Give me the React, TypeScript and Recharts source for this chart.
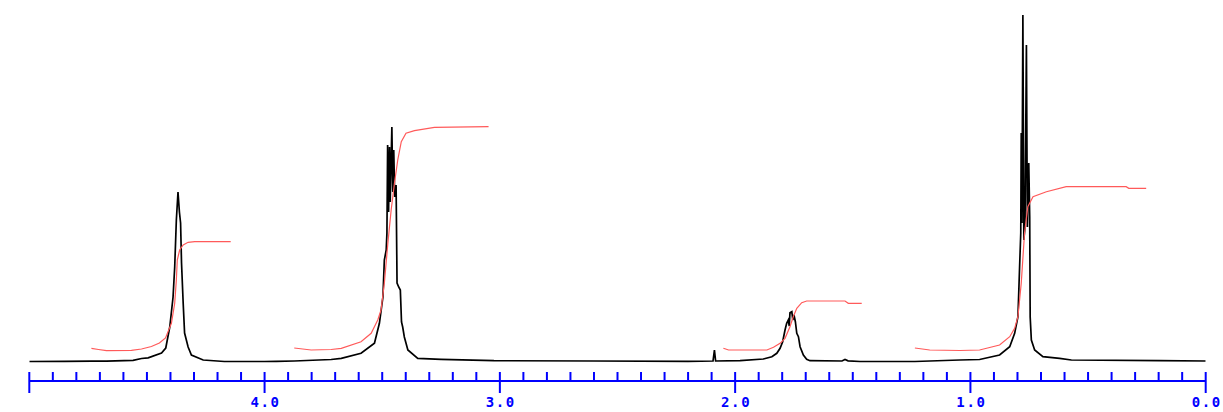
import React from 'react';
import { ComposedChart, Line, XAxis, YAxis } from 'recharts';

// ppm, intensity (arbitrary units)
const baseLeft: [number, number][] = [
  [5.0, 0.5], [4.85, 0.6], [4.736, 0.8], [4.672, 0.8], [4.559, 1.7], [4.523, 3.5], [4.495, 4.2],
  [4.438, 9], [4.42, 14],
];
const peakA: [number, number][] = [
  [4.403, 35], [4.389, 65], [4.382, 95], [4.375, 142], [4.368, 170], [4.362, 150],
  [4.357, 139], [4.353, 99], [4.346, 59], [4.34, 29], [4.325, 15], [4.311, 7],
  [4.261, 2], [4.171, 0.5], [4.0, 0.5], [3.95, 0.6],
];
const peakB: [number, number][] = [
  [3.874, 1], [3.717, 2.5], [3.674, 3.7], [3.59, 8.7], [3.533, 18.7], [3.512, 38.7],
  [3.497, 65], [3.491, 102], [3.483, 112], [3.48, 129], [3.477, 217], [3.473, 150],
  [3.469, 215], [3.466, 160], [3.459, 235], [3.455, 170], [3.451, 212], [3.447, 165],
  [3.441, 177], [3.437, 79], [3.43, 75], [3.423, 72], [3.418, 40], [3.413, 35],
  [3.406, 25], [3.391, 12], [3.349, 3.7], [3.25, 2.7], [3.025, 1.3], [2.6, 1], [2.2, 0.6],
];
const peakC: [number, number][] = [
  [2.094, 1], [2.088, 12], [2.083, 1], [1.979, 1.3], [1.88, 3], [1.844, 5.3],
  [1.823, 8.7], [1.809, 13.7], [1.798, 20.3], [1.788, 32], [1.781, 38.7], [1.774, 42],
  [1.77, 36], [1.767, 49.3], [1.759, 50.3], [1.755, 42], [1.75, 47], [1.744, 40.3],
  [1.738, 28.7], [1.731, 25.3], [1.724, 15.3], [1.71, 7], [1.696, 2.7], [1.682, 1.3],
  [1.546, 1], [1.533, 2.5], [1.52, 1.2], [1.469, 0.5],
];
const peakD: [number, number][] = [
  [1.236, 0.5], [1.045, 2], [0.961, 2.5], [0.876, 7], [0.833, 15.3], [0.812, 28.7],
  [0.798, 45.3], [0.791, 95], [0.786, 129], [0.784, 229], [0.781, 139], [0.777, 347],
  [0.773, 122], [0.768, 135], [0.762, 317], [0.758, 135], [0.752, 199], [0.748, 145],
  [0.746, 45], [0.741, 22], [0.727, 12], [0.692, 5.3], [0.621, 3.7], [0.571, 2],
  [0.197, 1.3], [0.0, 1],
];

const integral1: [number, number][] = [
  [4.736, 13.7], [4.706, 12.5], [4.672, 11.3], [4.566, 11.7], [4.523, 13], [4.481, 15.5],
  [4.447, 19], [4.421, 24], [4.396, 38.7], [4.382, 58.7], [4.375, 82], [4.371, 102],
  [4.361, 112], [4.346, 117], [4.325, 119.7], [4.297, 120.3], [4.144, 120.3],
];
const integral2: [number, number][] = [
  [3.874, 14], [3.802, 12], [3.717, 12.5], [3.674, 13.7], [3.59, 20.3], [3.547, 28.7],
  [3.519, 42], [3.505, 52], [3.491, 78.7], [3.476, 118.7], [3.462, 152], [3.448, 178.7],
  [3.434, 202], [3.419, 220.3], [3.399, 228.7], [3.363, 231.3], [3.278, 234.7], [3.048, 235.3],
];
const integral3: [number, number][] = [
  [2.05, 13.7], [2.028, 12], [1.865, 12], [1.837, 14.7], [1.809, 18.7], [1.788, 23.7],
  [1.767, 35.3], [1.753, 45.3], [1.738, 53.7], [1.717, 59.3], [1.696, 61], [1.533, 61],
  [1.519, 58.7], [1.462, 58.7],
];
const integral4: [number, number][] = [
  [1.236, 14], [1.173, 12], [1.045, 11.5], [0.961, 12], [0.876, 17], [0.833, 25.3],
  [0.812, 33.7], [0.798, 45.3], [0.784, 78.7], [0.77, 128.7], [0.756, 155.3], [0.734, 165.3],
  [0.677, 170.3], [0.593, 175.3], [0.338, 175.3], [0.327, 173.7], [0.253, 173.7],
];

const TICKS = [
  5.0, 4.9, 4.8, 4.7, 4.6, 4.5, 4.4, 4.3, 4.2, 4.1, 4.0, 3.9, 3.8, 3.7, 3.6, 3.5, 3.4, 3.3,
  3.2, 3.1, 3.0, 2.9, 2.8, 2.7, 2.6, 2.5, 2.4, 2.3, 2.2, 2.1, 2.0, 1.9, 1.8, 1.7, 1.6, 1.5,
  1.4, 1.3, 1.2, 1.1, 1.0, 0.9, 0.8, 0.7, 0.6, 0.5, 0.4, 0.3, 0.2, 0.1, 0.0,
];
const MAJOR = [5.0, 4.0, 3.0, 2.0, 1.0, 0.0];
const LABELED: Record<string, string> = { '4': '4.0', '3': '3.0', '2': '2.0', '1': '1.0', '0': '0.0' };

const toRows = (arr: [number, number][]) => arr.map(([ppm, v]) => ({ ppm, v }));
const spectrum = toRows([...baseLeft, ...peakA, ...peakB, ...peakC, ...peakD]);

const BLUE = '#0000ff';
const RED = '#ff5a5a';

const AxisTick = (props: any) => {
  const { x, y, payload } = props;
  const val = Math.round(payload.value * 10) / 10;
  const isMajor = MAJOR.some((m) => Math.abs(m - val) < 1e-6);
  const label = LABELED[String(val)];
  return (
    <g>
      <line x1={x} x2={x} y1={y - 9} y2={isMajor ? y + 12 : y} stroke={BLUE} strokeWidth={2} />
      {label && (
        <text
          x={x + 1}
          y={y + 26}
          textAnchor="middle"
          fill={BLUE}
          fontFamily="DejaVu Sans Mono"
          fontWeight="bold"
          fontSize={14}
          letterSpacing={1.6}
        >
          {label}
        </text>
      )}
    </g>
  );
};

export default function App() {
  return (
    <div style={{ position: 'absolute', left: 0, top: 0, background: '#fff' }}>
      <ComposedChart width={1223} height={412} margin={{ top: 0, right: 17.3, bottom: 0, left: 29.3 }}>
        <XAxis
          dataKey="ppm"
          type="number"
          domain={[0, 5]}
          reversed
          allowDataOverflow
          ticks={TICKS}
          interval={0}
          tickSize={0}
          tickMargin={0}
          tickLine={false}
          height={31}
          axisLine={{ stroke: BLUE, strokeWidth: 2 }}
          tick={<AxisTick />}
        />
        <YAxis hide type="number" domain={[-19, 362]} allowDataOverflow />
        <Line data={spectrum} dataKey="v" stroke="#000" strokeWidth={1.7} dot={false} isAnimationActive={false} type="linear" />
        <Line data={toRows(integral1)} dataKey="v" stroke={RED} strokeWidth={1.2} dot={false} isAnimationActive={false} />
        <Line data={toRows(integral2)} dataKey="v" stroke={RED} strokeWidth={1.2} dot={false} isAnimationActive={false} />
        <Line data={toRows(integral3)} dataKey="v" stroke={RED} strokeWidth={1.2} dot={false} isAnimationActive={false} />
        <Line data={toRows(integral4)} dataKey="v" stroke={RED} strokeWidth={1.2} dot={false} isAnimationActive={false} />
      </ComposedChart>
    </div>
  );
}
